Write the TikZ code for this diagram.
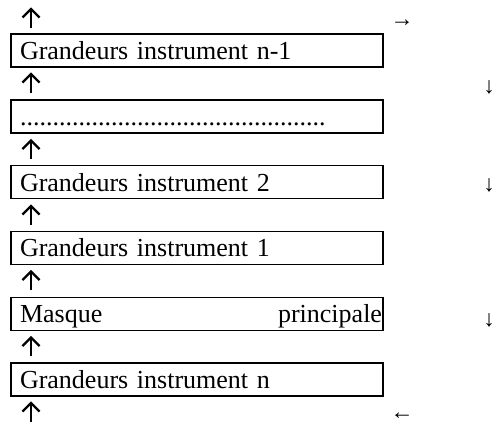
\documentclass[tikz,border=0pt]{standalone}
\usepackage{fontspec}
\setmainfont{Liberation Serif}
\usetikzlibrary{positioning}

\begin{document}
\begin{tikzpicture}[%
            x = 1pt,
            y = -1pt,
            bloc/.style = {%
                draw,
                line width = 1.4pt,
                minimum width = 372pt,
                minimum height = 33pt,
                text width = 354pt,
                inner xsep = 9pt,
                align = left,
                text height = 18pt,
                text depth = 0pt,
                font = \fontsize{26}{30}\selectfont,
            },
            haut/.style = {line width = 2.2pt, line join = miter},
            petit/.style = {inner sep = 0pt, font = \fontsize{23}{25}\selectfont},
        ]

        % Fixes the page to the size of the reference.
        \useasboundingbox (0, 0) rectangle (498, 423);

        % The stacked blocks, from top to bottom.
        \node[bloc] (b1) at (197, 50.5) {Grandeurs instrument n-1};
        \node[bloc] (b2) at (197, 116.3)
            {...............................................};
        \node[bloc] (b3) at (197, 182.1) {Grandeurs instrument 2};
        \node[bloc] (b4) at (197, 247.9) {Grandeurs instrument 1};
        \node[bloc] (b5) at (197, 313.7) {Masque\hfill principale\kern-8pt};
        \node[bloc] (b6) at (197, 379.5) {Grandeurs instrument n};

        % The upward arrows beside the blocks, drawn as glyphs.
        \foreach \y [count = \i from 0] in {18, 83, 149.5, 215, 280.5, 346.5, 412} {
            \coordinate (up\i) at (31, \y);
            \draw[haut] ([yshift = -9.5pt] up\i) -- ([yshift = 9pt] up\i);
            \draw[haut] ([shift = {(-8.5pt, 0.5pt)}] up\i)
                -- ([yshift = 9pt] up\i) -- ([shift = {(8.5pt, 0.5pt)}] up\i);
        }

        % The small arrows on the right side.
        \node[petit] (ra) at (402, 23) {→};
        \node[petit] (da) at (489, 87) {↓};
        \node[petit] (db) at (489, 185) {↓};
        \node[petit] (dc) at (489, 320) {↓};
        \node[petit] (la) at (402, 416) {←};
    \end{tikzpicture}
\end{document}
